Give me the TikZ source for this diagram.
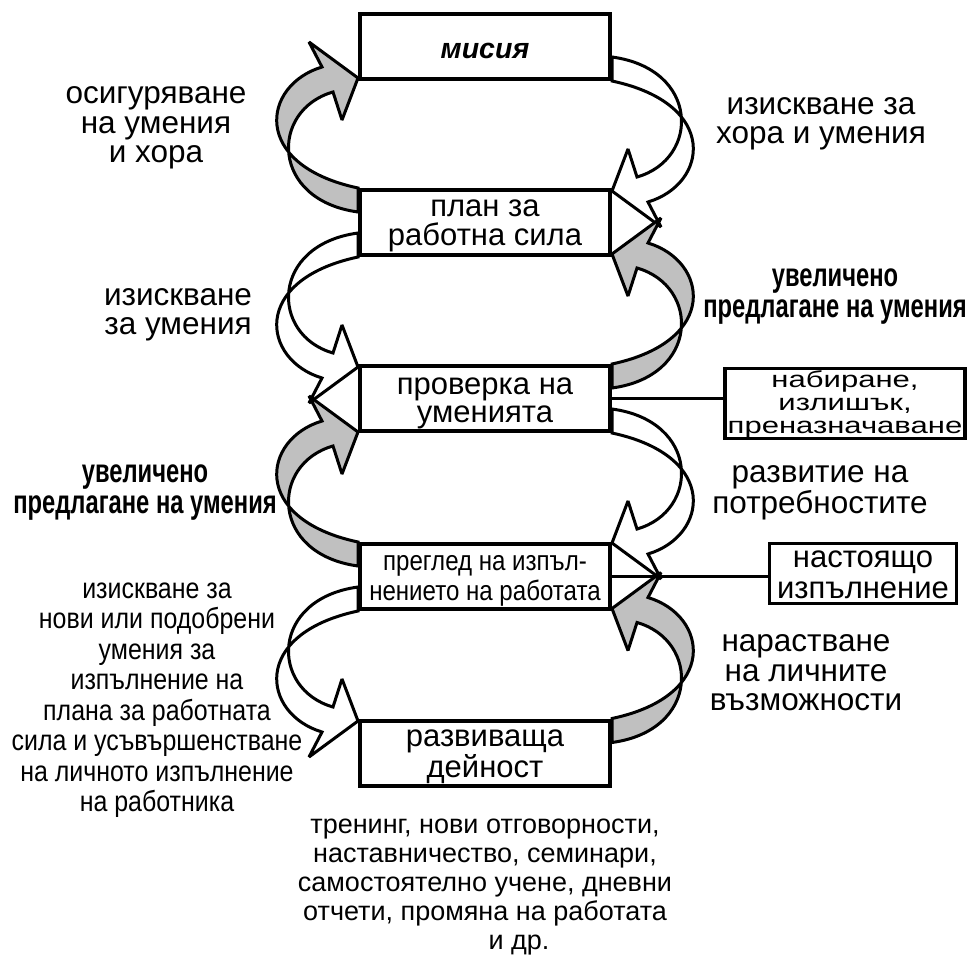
\documentclass[tikz,border=0pt]{standalone}
\usepackage{fontspec}
\setmainfont{Liberation Sans}
\newfontfamily\narrowfont[FakeStretch=0.86]{Liberation Sans}
\newfontfamily\condbold[FakeStretch=0.72]{Liberation Sans Bold}
\newfontfamily\widefont[FakeStretch=1.35]{Liberation Sans}
\definecolor{arrgray}{RGB}{192,192,192}
\pgfdeclarelayer{bg}
\pgfsetlayers{bg,main}
\newcommand\curvarr[2]{%
  \begin{scope}[#1]
    \filldraw[fill=#2, line width=3pt, line join=miter, miter limit=3]
      (0,0) .. controls (-108,-23) and (-96,-103) .. (-36,-121)
      -- (-49,-146) -- (0,-110) -- (-16,-68) -- (-25,-96)
      .. controls (-88,-78) and (-88,12) .. (0,24) -- cycle;
  \end{scope}}
\tikzset{
  box/.style={draw, line width=4pt, fill=white, minimum width=250pt,
    minimum height=65pt, inner sep=0pt, align=center},
  sidebox/.style={draw, line width=3.5pt, fill=white, inner sep=0pt, align=center},
  lbl/.style={align=center, inner sep=0pt},
  conn/.style={line width=3.5pt},
  reg/.style={font=\fontsize{31.5}{29.5}\selectfont},
  bld/.style={font=\fontsize{33}{31}\selectfont\condbold}
}
\begin{document}
\begin{tikzpicture}[x=1pt,y=-1pt]
\useasboundingbox (0,0) rectangle (968,960);
% main boxes
\node[box, font=\fontsize{28.5}{29}\selectfont\bfseries\itshape] (b1) at (485,46.5) {\rule{0pt}{24pt}мисия};
\node[box, font=\fontsize{31}{28.5}\selectfont] (b2) at (485,222.5) {\rule{0pt}{23pt}план за\\работна сила};
\node[box, font=\fontsize{31}{28.5}\selectfont] (b3) at (485,398.5) {\rule{0pt}{26pt}проверка на\\уменията};
\node[box, font=\fontsize{28}{30}\selectfont\narrowfont] (b4) at (485,576.5) {\rule{0pt}{24pt}преглед на изпъл-\\нението на работата};
\node[box, font=\fontsize{31}{29}\selectfont] (b5) at (485,753) {\rule{0pt}{24pt}развиваща\\дейност};
% side boxes
\node[sidebox, minimum width=240pt, minimum height=64pt, font=\fontsize{23}{23}\selectfont\widefont] (s1) at (845,403.5)
  {\rule{0pt}{19pt}набиране,\\излишък,\\преназначаване};
\node[sidebox, minimum width=187pt, minimum height=60pt, font=\fontsize{31}{31}\selectfont] (s2) at (863,573.5)
  {\rule{0pt}{19pt}настоящо\\изпълнение};
\draw[conn] (b3.east) -- (b3.east -| s1.west);
\draw[conn] (b4.east) -- (b4.east -| s2.west);
% curved arrows
\begin{pgfonlayer}{bg}
\curvarr{shift={(b2.north west)}}{arrgray}
\curvarr{shift={(b2.south west)},yscale=-1}{white}
\curvarr{shift={(b4.north west)}}{arrgray}
\curvarr{shift={(b4.south west)},yscale=-1}{white}
\curvarr{shift={(b1.south east)},xscale=-1,yscale=-1}{white}
\curvarr{shift={(b3.north east)},xscale=-1}{arrgray}
\curvarr{shift={(b3.south east)},xscale=-1,yscale=-1}{white}
\curvarr{shift={(b5.north east)},xscale=-1}{arrgray}
\end{pgfonlayer}
% labels
\node[lbl, reg] (t1) at (156,128) {осигуряване\\на умения\\и хора};
\node[lbl, reg] (t2) at (178,315) {изискване\\за умения};
\node[lbl, bld] (t3) at (145,493) {увеличено\\предлагане на умения};
\node[lbl, font=\fontsize{29}{30.5}\selectfont\narrowfont] (t4) at (157,700) {изискване за\\нови или подобрени\\умения за\\изпълнение на\\плана за работната\\сила и усъвършенстване\\на личното изпълнение\\на работника};
\node[lbl, reg] (t5) at (821,124) {изискване за\\хора и умения};
\node[lbl, bld] (t6) at (835,297) {увеличено\\предлагане на умения};
\node[lbl, reg] (t7) at (820,493) {развитие на\\потребностите};
\node[lbl, reg] (t8) at (806,673) {нарастване\\на личните\\възможности};
\node[lbl, font=\fontsize{27}{29}\selectfont] (t9) at (485,887) {тренинг, нови отговорности,\\наставничество, семинари,\\самостоятелно учене, дневни\\отчети, промяна на работата\\\hspace*{68pt}и др.};
\end{tikzpicture}
\end{document}
